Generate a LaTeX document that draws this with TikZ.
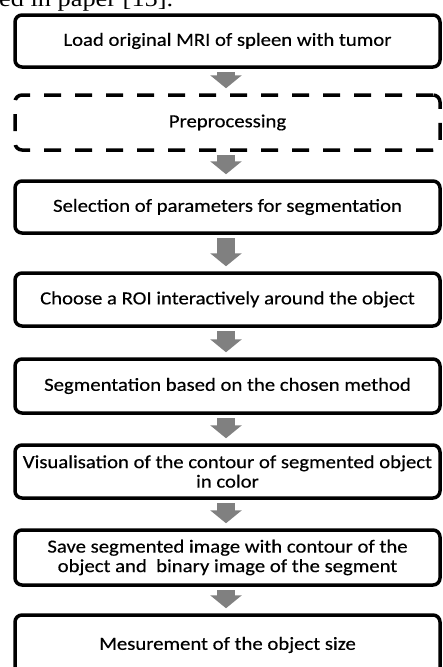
\documentclass[tikz,border=0pt]{standalone}
\usepackage{fontspec}
\setmainfont[FakeStretch=1.12, FakeBold=0.4]{Carlito}
\newfontfamily\headserif[FakeStretch=1.17]{Liberation Serif}
\usetikzlibrary{arrows.meta}

\definecolor{arrowgray}{RGB}{128,128,128}

\tikzset{
  stagebox/.style={draw=black, line width=3.5pt, rounded corners=7pt,
    minimum width=425pt, inner sep=0pt, align=center,
    font=\fontsize{18.5pt}{19.5pt}\selectfont},
  optbox/.style={stagebox, dash pattern=on 17pt off 14pt},
  flowarrow/.style={draw=arrowgray, line width=18pt, line cap=butt,
    shorten <=3.5pt, shorten >=5pt,
    -{Triangle[length=13pt, width=31pt, fill=arrowgray]}}
}

\begin{document}
\begin{tikzpicture}[x=1pt, y=-1pt]
  \useasboundingbox (0,0) rectangle (443,667);
  \clip (0,0) rectangle (443,667);

  % tail of the preceding sentence in the page text
  \node[anchor=base west, inner sep=0pt, font=\headserif\fontsize{22.5pt}{24pt}\selectfont]
    (caption) at (-1,6) {ed in paper [15].};

  % processing stages
  \node[stagebox, minimum height=52pt] (s1) at (227.5,41)
    {Load original MRI of spleen with tumor};
  \node[optbox, minimum height=55pt] (s2) at (227.5,122.5)
    {Preprocessing};
  \node[stagebox, minimum height=52pt] (s3) at (227.5,207)
    {Selection of parameters for segmentation};
  \node[stagebox, minimum height=53pt] (s4) at (227.5,299.5)
    {Choose a ROI interactively around the object};
  \node[stagebox, minimum height=54pt] (s5) at (227.5,386)
    {Segmentation based on the chosen method};
  \node[stagebox, minimum height=53pt] (s6) at (227.5,471.5)
    {Visualisation of the contour of segmented object\\in color};
  \node[stagebox, minimum height=55pt] (s7) at (227.5,557.5)
    {Save segmented image with contour of the\\object and\ \ binary image of the segment};
  \node[stagebox, minimum height=60pt] (s8) at (227.5,645)
    {Mesurement of the object size};

  % block arrows between consecutive stages
  \foreach \a/\b in {s1/s2, s2/s3, s3/s4, s4/s5, s5/s6, s6/s7, s7/s8}
    \draw[flowarrow] ([xshift=-1.5pt]\a.south) -- ([xshift=-1.5pt]\b.north);
\end{tikzpicture}
\end{document}
